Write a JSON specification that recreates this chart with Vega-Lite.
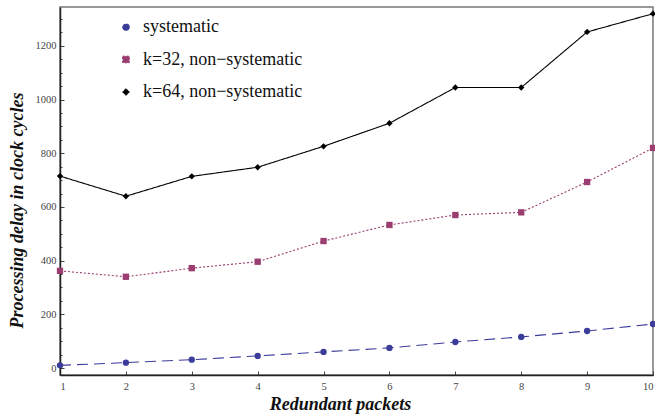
{
  "$schema": "https://vega.github.io/schema/vega-lite/v6.json",
  "autosize": {"type": "none"},
  "padding": {"left": 60, "top": 7, "right": 2, "bottom": 40},
  "width": 593,
  "height": 368,
  "background": "white",
  "config": {
    "view": {"stroke": "#777", "strokeWidth": 1.5},
    "style": {"guide-label": {"font": "Liberation Serif"}},
    "axis": {"domainColor": "#222", "domainWidth": 1.5, "tickColor": "#444", "labelColor": "#444", "labelFontSize": 10.5, "grid": false, "titleFont": "Liberation Serif", "titleFontStyle": "italic", "titleFontWeight": "bold", "titleColor": "#111", "titleFontSize": 18}
  },
  "data": {"values": [
    {"packets": 1, "series": "systematic", "delay": 10},
    {"packets": 2, "series": "systematic", "delay": 20},
    {"packets": 3, "series": "systematic", "delay": 31},
    {"packets": 4, "series": "systematic", "delay": 45},
    {"packets": 5, "series": "systematic", "delay": 60},
    {"packets": 6, "series": "systematic", "delay": 75},
    {"packets": 7, "series": "systematic", "delay": 97},
    {"packets": 8, "series": "systematic", "delay": 116},
    {"packets": 9, "series": "systematic", "delay": 138},
    {"packets": 10, "series": "systematic", "delay": 164},
    {"packets": 1, "series": "k=32, non\u2212systematic", "delay": 362},
    {"packets": 2, "series": "k=32, non\u2212systematic", "delay": 340},
    {"packets": 3, "series": "k=32, non\u2212systematic", "delay": 372},
    {"packets": 4, "series": "k=32, non\u2212systematic", "delay": 396},
    {"packets": 5, "series": "k=32, non\u2212systematic", "delay": 473},
    {"packets": 6, "series": "k=32, non\u2212systematic", "delay": 533},
    {"packets": 7, "series": "k=32, non\u2212systematic", "delay": 570},
    {"packets": 8, "series": "k=32, non\u2212systematic", "delay": 580},
    {"packets": 9, "series": "k=32, non\u2212systematic", "delay": 693},
    {"packets": 10, "series": "k=32, non\u2212systematic", "delay": 820},
    {"packets": 1, "series": "k=64, non\u2212systematic", "delay": 715},
    {"packets": 2, "series": "k=64, non\u2212systematic", "delay": 640},
    {"packets": 3, "series": "k=64, non\u2212systematic", "delay": 714},
    {"packets": 4, "series": "k=64, non\u2212systematic", "delay": 748},
    {"packets": 5, "series": "k=64, non\u2212systematic", "delay": 826},
    {"packets": 6, "series": "k=64, non\u2212systematic", "delay": 912},
    {"packets": 7, "series": "k=64, non\u2212systematic", "delay": 1045},
    {"packets": 8, "series": "k=64, non\u2212systematic", "delay": 1045},
    {"packets": 9, "series": "k=64, non\u2212systematic", "delay": 1252},
    {"packets": 10, "series": "k=64, non\u2212systematic", "delay": 1320}
  ]},
  "encoding": {
    "x": {"field": "packets", "type": "quantitative", "scale": {"domain": [1, 10], "nice": false, "zero": false},
      "axis": {"values": [1,2,3,4,5,6,7,8,9,10], "labelFont": {"expr": "'Liberation Serif'"}, "tickSize": -4, "labelPadding": 10, "title": "Redundant packets", "titleX": 280, "titleY": 29, "titleBaseline": "middle"}},
    "y": {"field": "delay", "type": "quantitative", "scale": {"domain": [-26, 1345], "nice": false, "zero": false},
      "axis": {"values": [0,50,100,150,200,250,300,350,400,450,500,550,600,650,700,750,800,850,900,950,1000,1050,1100,1150,1200,1250,1300],
        "labelExpr": "datum.value % 200 === 0 ? datum.label : ''",
        "labelFont": {"expr": "'Liberation Serif'"},
        "format": "d",
        "tickSize": {"condition": {"test": "datum.value % 200 === 0", "value": -4}, "value": -2},
        "labelPadding": 8, "title": "Processing delay in clock cycles", "titleX": -43, "titleY": 203, "titleBaseline": "middle", "titleAngle": -90}},
    "color": {"field": "series", "type": "nominal",
      "scale": {"domain": ["systematic", "k=32, non\u2212systematic", "k=64, non\u2212systematic"], "range": ["#3c3c9a", "#9a3d70", "#000000"]},
      "legend": {"orient": "none", "legendX": 57, "legendY": 11, "title": null, "labelFont": {"expr": "'Liberation Serif'"}, "labelFontSize": 18, "labelColor": "#111", "rowPadding": 14.5, "symbolSize": 45, "labelOffset": 8, "symbolStrokeWidth": 1}}
  },
  "layer": [
    {"mark": {"type": "line", "strokeWidth": 1.1},
      "encoding": {"strokeDash": {"field": "series", "type": "nominal", "scale": {"domain": ["systematic", "k=32, non\u2212systematic", "k=64, non\u2212systematic"], "range": [[11, 6], [2, 2], [1, 0]]}, "legend": null}}},
    {"mark": {"type": "point", "filled": true, "opacity": 1, "size": 40},
      "encoding": {"shape": {"field": "series", "type": "nominal", "scale": {"domain": ["systematic", "k=32, non\u2212systematic", "k=64, non\u2212systematic"], "range": ["circle", "square", "diamond"]}}}}
  ]
}
